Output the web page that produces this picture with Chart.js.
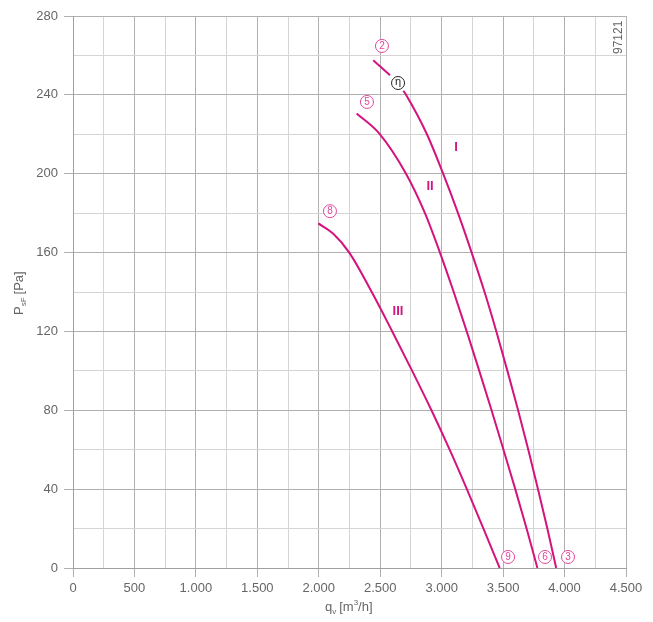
<!DOCTYPE html>
<html>
<head>
<meta charset="utf-8">
<script src="https://cdn.jsdelivr.net/npm/chart.js@4.4.1/dist/chart.umd.min.js"></script>
<style>
  html, body { margin: 0; padding: 0; background: #fff; }
  #wrap { width: 653px; height: 622px; }
</style>
</head>
<body>
<div id="wrap"><canvas id="chart" width="653" height="622"></canvas></div>
<script>
// fan curves, q_v in m3/h and p_sF in Pa (null = gap for the eta marker)
const qI   = [2443, 2580, 2634, 2688, 2710, 2880, 3012, 3133, 3244, 3349, 3445, 3535, 3622, 3705, 3784, 3860, 3932];
const pI   = [257.6, 250, null, 242.1, 240, 220,  200,  180,  160,  140,  120,  100,  80,   60,   40,   20,   0];
const qII  = [2308, 2498, 2710, 2864, 2986, 3098, 3204, 3306, 3406, 3503, 3599, 3691, 3779];
const pII  = [230.6, 220, 200,  180,  160,  140,  120,  100,  80,   60,   40,   20,   0];
const qIII = [1996, 2118, 2248, 2431, 2598, 2760, 2917, 3065, 3205, 3340, 3472];
const pIII = [174.8, 169.5, 160, 140, 120,  100,  80,   60,   40,   20,   0];

const xTicks = [0, 500, 1000, 1500, 2000, 2500, 3000, 3500, 4000, 4500];
const yTicks = [0, 40, 80, 120, 160, 200, 240, 280];

// curve markers (circled numbers) and curve names
const circleLabels = ['2', '\u03B7', '5', '8', '9', '6', '3'];
const circleQ      = [2514, 2645, 2392, 2091, 3540, 3841, 4028];
const circleP      = [264.8, 246, 236.4, 181, 5.6, 5.6, 5.6];
const curveNames   = ['I', 'II', 'III'];
const nameQ        = [3117, 2905, 2645];
const nameP        = [213.5, 193.8, 130.4];

const pts = (xs, ys) => xs.map((x, i) => ({ x: x, y: ys[i] }));
const MAGENTA = '#d4137f';
const FONT = '"Liberation Sans", Arial, sans-serif';

const fmt = v => v >= 1000 ? Math.floor(v / 1000) + '.' + String(v % 1000).padStart(3, '0') : String(v);

const overlay = {
    id: 'overlay',
    afterDatasetsDraw(chart) {
        const ctx = chart.ctx;
        const sx = chart.scales.x, sy = chart.scales.y;
        ctx.save();
        // circled markers
        circleLabels.forEach((t, i) => {
            const px = sx.getPixelForValue(circleQ[i]);
            const py = sy.getPixelForValue(circleP[i]);
            const isEta = t === '\u03B7';
            const col = isEta ? '#222' : '#e0479d';
            ctx.beginPath();
            ctx.arc(px, py, 6.5, 0, Math.PI * 2);
            ctx.fillStyle = '#fff';
            ctx.fill();
            ctx.lineWidth = 1;
            ctx.strokeStyle = col;
            ctx.stroke();
            ctx.fillStyle = col;
            ctx.font = (isEta ? '11px ' : '10px ') + FONT;
            ctx.textAlign = 'center';
            ctx.textBaseline = 'middle';
            ctx.fillText(t, px, py + (isEta ? -1 : 0.5));
        });
        // curve names
        ctx.fillStyle = '#d0167f';
        ctx.font = 'bold 13px ' + FONT;
        ctx.textAlign = 'center';
        ctx.textBaseline = 'middle';
        curveNames.forEach((t, i) => {
            ctx.fillText(t, sx.getPixelForValue(nameQ[i]), sy.getPixelForValue(nameP[i]));
        });

        ctx.fillStyle = '#666';
        // x axis title q_v [m3/h]
        ctx.textAlign = 'left';
        ctx.textBaseline = 'alphabetic';
        let x0 = 325, yb = 611;
        ctx.font = '13px ' + FONT;
        ctx.fillText('q', x0, yb);
        x0 += ctx.measureText('q').width;
        ctx.font = '8px ' + FONT;
        ctx.fillText('v', x0, yb + 3);
        x0 += ctx.measureText('v').width + 3;
        ctx.font = '13px ' + FONT;
        ctx.fillText('[m', x0, yb);
        x0 += ctx.measureText('[m').width;
        ctx.font = '8px ' + FONT;
        ctx.fillText('3', x0, yb - 6);
        x0 += ctx.measureText('3').width;
        ctx.font = '13px ' + FONT;
        ctx.fillText('/h]', x0, yb);

        // y axis title P_sF [Pa]
        ctx.save();
        ctx.translate(23, 315);
        ctx.rotate(-Math.PI / 2);
        let y0 = 0;
        ctx.font = '13px ' + FONT;
        ctx.fillText('P', y0, 0);
        y0 += ctx.measureText('P').width;
        ctx.font = '8px ' + FONT;
        ctx.fillText('sF', y0, 3);
        y0 += ctx.measureText('sF').width + 3;
        ctx.font = '13px ' + FONT;
        ctx.fillText('[Pa]', y0, 0);
        ctx.restore();

        // drawing number
        ctx.save();
        ctx.translate(622, 54);
        ctx.rotate(-Math.PI / 2);
        ctx.font = '12px ' + FONT;
        ctx.fillText('97121', 0, 0);
        ctx.restore();
        ctx.restore();
    }
};

const lineDs = (data) => ({
    data: data,
    borderColor: MAGENTA,
    borderWidth: 2,
    pointRadius: 0,
    fill: false,
    showLine: true,
    spanGaps: false,
    cubicInterpolationMode: 'monotone'
});

new Chart(document.getElementById('chart').getContext('2d'), {
    type: 'scatter',
    data: {
        datasets: [lineDs(pts(qI, pI)), lineDs(pts(qII, pII)), lineDs(pts(qIII, pIII))]
    },
    options: {
        responsive: false,
        animation: false,
        layout: { padding: { top: 16, right: 27, left: 0, bottom: 0 } },
        plugins: { legend: { display: false }, tooltip: { enabled: false } },
        scales: {
            x: {
                type: 'linear', min: 0, max: 4500,
                afterFit: s => { s.height = 54; },
                afterBuildTicks: s => { s.ticks = []; for (let v = 0; v <= 4500; v += 250) s.ticks.push({ value: v }); },
                ticks: {
                    color: '#666', font: { family: FONT, size: 13 }, padding: 4, maxRotation: 0, autoSkip: false,
                    callback: v => xTicks.includes(v) ? fmt(v) : ''
                },
                grid: {
                    color: c => (c.tick && xTicks.includes(c.tick.value)) ? '#b0b0b0' : '#d4d4d4',
                    tickColor: c => (c.tick && xTicks.includes(c.tick.value)) ? '#b0b0b0' : 'rgba(0,0,0,0)',
                    tickLength: 9, lineWidth: 1
                },
                border: { color: '#a0a0a0' }
            },
            y: {
                type: 'linear', min: 0, max: 280,
                afterFit: s => { s.width = 73; },
                afterBuildTicks: s => { s.ticks = []; for (let v = 0; v <= 280; v += 20) s.ticks.push({ value: v }); },
                ticks: {
                    color: '#666', font: { family: FONT, size: 13 }, padding: 6, autoSkip: false,
                    callback: v => yTicks.includes(v) ? String(v) : ''
                },
                grid: {
                    color: c => (c.tick && yTicks.includes(c.tick.value)) ? '#b0b0b0' : '#d4d4d4',
                    tickColor: c => (c.tick && yTicks.includes(c.tick.value)) ? '#b0b0b0' : 'rgba(0,0,0,0)',
                    tickLength: 9, lineWidth: 1
                },
                border: { color: '#a0a0a0' }
            }
        }
    },
    plugins: [overlay]
});
</script>
</body>
</html>
